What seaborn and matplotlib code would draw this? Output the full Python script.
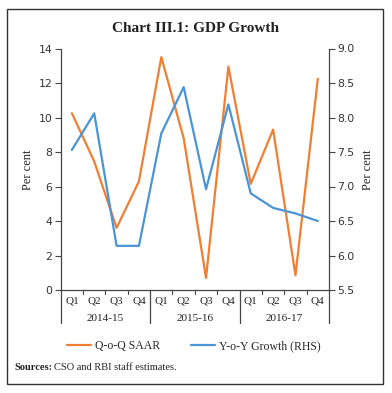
import matplotlib
matplotlib.use("Agg")
import matplotlib.pyplot as plt
import matplotlib.transforms as mtransforms
from matplotlib.patches import Rectangle
import seaborn as sns
import pandas as pd

years = ["2014-15", "2015-16", "2016-17"]
quarters = ["Q1", "Q2", "Q3", "Q4"]
qoq_saar = [10.25, 7.45, 3.6, 6.3, 13.5, 8.8, 0.7, 12.95, 6.15, 9.3, 0.85, 12.25]
yoy_growth = [7.53, 8.06, 6.14, 6.14, 7.77, 8.44, 6.96, 8.19, 6.90, 6.69, 6.61, 6.50]

labels = [q for _ in years for q in quarters]
df = pd.DataFrame({"pos": range(len(labels)), "label": labels,
                   "qoq": qoq_saar, "yoy": yoy_growth})

sns.set_theme(style="white")
plt.rcParams["font.family"] = ["Liberation Serif", "DejaVu Serif"]

W, H = 392, 393
fig = plt.figure(figsize=(W / 100, H / 100), dpi=100)
fig.patch.set_facecolor("white")
fig.patches.append(Rectangle((7 / W, 1 - 384 / H), (383 - 7) / W, (384 - 9) / H,
                             transform=fig.transFigure, fill=False,
                             edgecolor="#333333", linewidth=1.0))

left, right, top, bottom = 60.7, 329, 48.5, 290
ax = fig.add_axes([left / W, 1 - bottom / H, (right - left) / W, (bottom - top) / H])
ax2 = ax.twinx()

orange = "#F07F33"
blue = "#4B94D6"
sns.lineplot(data=df, x="pos", y="qoq", ax=ax, color=orange, linewidth=1.6)
sns.lineplot(data=df, x="pos", y="yoy", ax=ax2, color=blue, linewidth=1.6)

ax.set_xlim(-0.5, len(labels) - 0.5)
ax.set_ylim(0, 14)
ax.set_yticks(range(0, 15, 2))
ax2.set_ylim(5.5, 9.0)
ax2.set_yticks([5.5, 6.0, 6.5, 7.0, 7.5, 8.0, 8.5, 9.0])
ax2.set_yticklabels([f"{v:.1f}" for v in [5.5, 6.0, 6.5, 7.0, 7.5, 8.0, 8.5, 9.0]])

for a in (ax, ax2):
    a.grid(False)
    a.set_xlabel("")
    a.spines["top"].set_visible(False)
    for s in a.spines.values():
        s.set_color("#444444")
        s.set_linewidth(0.9)
ax.spines["right"].set_visible(False)
ax2.spines["left"].set_visible(False)
ax2.spines["bottom"].set_visible(False)

ax.tick_params(axis="y", which="major", left=True, length=4, width=0.8, color="#444444",
               labelcolor="#333333", pad=2)
ax2.tick_params(axis="y", which="major", right=True, length=4, width=0.8, color="#444444",
                labelcolor="#333333", pad=2)
for t in ax.get_yticklabels() + ax2.get_yticklabels():
    t.set_fontfamily("DejaVu Sans")
    t.set_fontsize(7.8)

ax.set_xticks(list(df["pos"]))
ax.set_xticklabels(df["label"], fontsize=8, color="#222222")
ax.tick_params(axis="x", which="major", bottom=False, length=0, pad=5)
minor = [i + 0.5 for i in range(len(labels) - 1) if (i + 1) % 4 != 0]
trans = mtransforms.blended_transform_factory(ax.transData, ax.transAxes)
for m in minor:
    ax.plot([m, m], [0, -0.016], transform=trans, color="#444444", linewidth=0.8, clip_on=False)
for b in [-0.5, 3.5, 7.5, 11.5]:
    ax.plot([b, b], [0, -0.137], transform=trans, color="#444444", linewidth=0.9, clip_on=False)
for i, y in enumerate(years):
    ax.text(i * 4 + 1.5, -0.117, y, transform=trans, ha="center", va="center",
            fontsize=8, color="#222222")

ax.set_ylabel("Per cent", fontsize=9, color="#222222", labelpad=3)
ax2.set_ylabel("Per cent", fontsize=9, color="#222222", labelpad=5)

fig.text(0.5, 1 - 28 / H, "Chart III.1: GDP Growth", ha="center", va="center",
         fontsize=11, fontweight="bold", color="#222222")

# legend
leg_handles = [plt.Line2D([], [], color=orange, linewidth=1.6),
               plt.Line2D([], [], color=blue, linewidth=1.6)]
fig.legend(leg_handles, ["Q-o-Q SAAR", "Y-o-Y Growth (RHS)"], loc="center",
           bbox_to_anchor=(0.495, 1 - 346 / H), ncol=2, frameon=False, fontsize=8.5,
           handlelength=2.0, handletextpad=0.4, columnspacing=2.6)

t1 = fig.text(14 / W, 1 - 367 / H, "Sources:", ha="left", va="center",
              fontsize=7.5, fontweight="bold", color="#222222")
fig.canvas.draw()
bb = t1.get_window_extent()
fig.text(bb.x1 / W + 2 / W, 1 - 367 / H, "CSO and RBI staff estimates.", ha="left",
         va="center", fontsize=7.5, color="#222222")

fig.savefig("out.png", dpi=100)
